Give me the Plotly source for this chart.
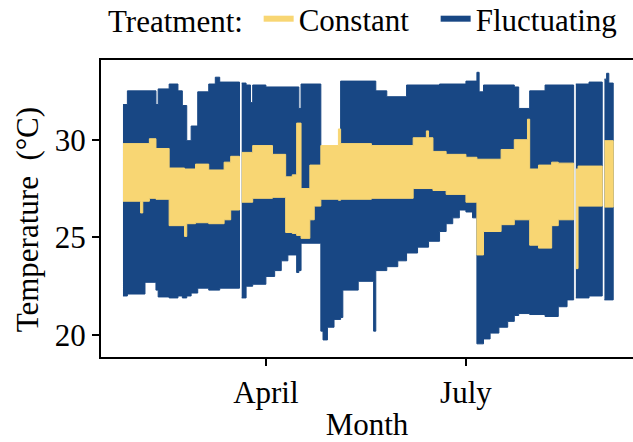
import plotly.graph_objects as go

# Logger readings summarised as step segments: each entry starts at the given
# date and lasts until the next one; None marks a gap in the record.
fluct_dates = ["2019-01-26", "2019-01-28", "2019-02-05", "2019-02-10", "2019-02-11",
               "2019-02-16", "2019-02-20", "2019-02-22", "2019-02-24", "2019-02-26",
               "2019-03-01", "2019-03-06", "2019-03-09", "2019-03-11", "2019-03-20",
               "2019-03-21", "2019-03-23", "2019-03-25", "2019-03-26", "2019-04-01",
               "2019-04-05", "2019-04-08", "2019-04-11", "2019-04-15", "2019-04-16",
               "2019-04-17", "2019-04-26", "2019-04-27", "2019-04-29", "2019-05-02",
               "2019-05-05", "2019-05-06", "2019-05-13", "2019-05-20", "2019-05-21",
               "2019-05-26", "2019-05-31", "2019-06-04", "2019-06-09", "2019-06-14",
               "2019-06-19", "2019-06-22", "2019-06-25", "2019-06-28", "2019-07-01",
               "2019-07-04", "2019-07-06", "2019-07-07", "2019-07-09", "2019-07-12",
               "2019-07-16", "2019-07-20", "2019-07-23", "2019-07-25", "2019-07-30",
               "2019-08-06", "2019-08-12", "2019-08-16", "2019-08-19", "2019-08-20",
               "2019-08-26", "2019-09-01", "2019-09-02", "2019-09-03", "2019-09-04",
               "2019-09-06"]
fluct_max = [31.8, 32.5, 32.5, 31.8, 32.6, 32.85, 32.5, 31.75, 29.95, 30.7,
             32.45, 32.85, 33.2, 32.95, None, 32.9, 32.8, 31.9, 32.8, 32.7,
             32.7, 32.7, 32.7, 32.7, 31.6, 32.85, 28.0, 28.0, 28.0, 28.0,
             33.0, 33.0, 33.0, 33.0, 32.5, 32.2, 32.2, 32.8, 32.8, 32.8,
             32.85, 32.85, 32.85, 32.85, 33.0, 33.0, 33.45, 32.45, 32.8, 32.8,
             32.8, 32.8, 32.7, 31.6, 32.5, 32.8, 32.8, 32.8, None, 32.85,
             32.95, None, 33.1, 33.4, 32.9]
fluct_min = [22.0, 22.1, 22.7, 22.3, 21.95, 21.9, 22.0, 21.9, 22.0, 22.15,
             22.4, 22.3, 22.3, 22.4, None, 21.9, 22.5, 22.5, 22.6, 23.0,
             23.3, 23.8, 24.1, 23.2, 23.3, 24.7, 20.2, 19.75, 20.4, 20.8,
             20.9, 22.3, 22.75, 20.2, 23.3, 23.5, 23.8, 24.2, 24.5, 24.8,
             25.3, 25.7, 26.0, 26.4, 26.3, 26.0, 19.55, 19.55, 19.8, 20.1,
             20.4, 20.7, 21.0, 21.1, 21.05, 20.95, 21.45, 21.8, None, 21.9,
             22.0, None, 21.8, 21.8, 21.8]

const_dates = ["2019-01-26", "2019-02-03", "2019-02-04", "2019-02-07", "2019-02-10",
               "2019-02-16", "2019-02-23", "2019-02-24", "2019-02-28", "2019-03-06",
               "2019-03-13", "2019-03-16", "2019-03-20", "2019-03-21", "2019-03-26",
               "2019-04-04", "2019-04-10", "2019-04-13", "2019-04-15", "2019-04-17",
               "2019-04-21", "2019-04-23", "2019-04-26", "2019-05-04", "2019-05-05",
               "2019-05-19", "2019-06-07", "2019-06-13", "2019-06-14", "2019-06-16",
               "2019-06-22", "2019-07-01", "2019-07-06", "2019-07-09", "2019-07-17",
               "2019-07-23", "2019-07-29", "2019-07-30", "2019-08-03", "2019-08-09",
               "2019-08-12", "2019-08-19", "2019-08-20", "2019-08-21", "2019-09-01",
               "2019-09-02", "2019-09-06"]
const_max = [29.8, 29.8, 29.8, 30.05, 29.55, 28.55, 28.5, 28.5, 28.75, 28.45,
             28.85, 29.15, None, 29.35, 29.7, 29.25, 28.1, 28.2, 30.85, 27.5,
             28.7, 28.7, 29.7, 30.55, 29.8, 29.7, 30.1, 30.45, 30.1, 29.4,
             29.25, 29.1, 29.0, 29.0, 29.5, 30.0, 31.05, 28.5, 28.7, 28.85,
             28.8, None, 28.5, 28.65, None, 29.95]
const_min = [26.85, 26.25, 26.85, 27.0, 26.95, 25.6, 25.05, 25.7, 25.75, 25.7,
             25.9, 26.4, None, 26.8, 27.0, 27.05, 25.25, 25.2, 25.1, 24.95,
             25.9, 26.6, 26.95, 26.9, 26.95, 27.0, 27.5, 27.5, 27.5, 27.4,
             27.2, 26.8, 24.1, 25.3, 25.65, 25.9, 25.9, 24.6, 24.45, 25.6,
             25.9, None, 23.4, 26.6, None, 26.55]

month_ticks = ["2019-04-01", "2019-07-01"]
month_labels = ["April", "July"]
temp_ticks = [20, 25, 30]

COL_CONST = "#F8D673"
COL_FLUCT = "#184784"
FONT = "Liberation Serif"
FS = 31


def band_outline(dates, upper, lower):
    """Closed outline of the stepped min/max band, one polygon per unbroken run."""
    assert len(dates) == len(upper) + 1 and len(upper) == len(lower)
    xs, ys = [], []
    run = []

    def flush():
        if not run:
            return
        for s, e, hi, lo in run:
            xs.extend([s, e])
            ys.extend([hi, hi])
        for s, e, hi, lo in reversed(run):
            xs.extend([e, s])
            ys.extend([lo, lo])
        xs.append(None)
        ys.append(None)
        run.clear()

    for i, (hi, lo) in enumerate(zip(upper, lower)):
        if hi is None:
            flush()
        else:
            run.append((dates[i], dates[i + 1], hi, lo))
    flush()
    return xs, ys


fig = go.Figure()

for name, dates, upper, lower, col in [
    ("Fluctuating", fluct_dates, fluct_max, fluct_min, COL_FLUCT),
    ("Constant", const_dates, const_max, const_min, COL_CONST),
]:
    bx, by = band_outline(dates, upper, lower)
    fig.add_trace(go.Scatter(
        x=bx, y=by, mode="lines", fill="toself", fillcolor=col,
        line=dict(color=col, width=1), hoverinfo="skip", showlegend=False,
        name=name,
    ))

# legend entries (the first one is widened to space the keys apart)
for name, col, lw in [("Constant", COL_CONST, 132), ("Fluctuating", COL_FLUCT, None)]:
    fig.add_trace(go.Scatter(
        x=[None], y=[None], mode="lines", name=name,
        line=dict(color=col, width=6), legendwidth=lw,
    ))

fig.update_layout(
    width=633, height=442,
    margin=dict(l=101, r=0, t=60, b=85, autoexpand=False),
    paper_bgcolor="white", plot_bgcolor="white",
    font=dict(family=FONT, size=FS, color="black"),
    showlegend=True,
    legend=dict(
        orientation="h", x=0.0094, xanchor="left", y=1.047, yanchor="bottom",
        title=dict(text="Treatment:\u00a0", side="left", font=dict(size=FS)),
        font=dict(size=FS), bgcolor="rgba(0,0,0,0)",
        itemwidth=30, tracegroupgap=0,
    ),
    xaxis=dict(
        type="date", range=["2019-01-16", "2019-09-15"],
        tickmode="array", tickvals=month_ticks, ticktext=month_labels,
        ticks="outside", ticklen=7, tickwidth=2, tickcolor="black",
        showline=True, linewidth=2, linecolor="black", mirror=True,
        showgrid=False, zeroline=False,
        tickfont=dict(size=FS),
        title=dict(text="Month", font=dict(size=FS), standoff=8),
    ),
    yaxis=dict(
        range=[18.876, 34.08],
        tickmode="array", tickvals=temp_ticks,
        ticks="outside", ticklen=7, tickwidth=2, tickcolor="black",
        showline=True, linewidth=2, linecolor="black",
        showgrid=False, zeroline=False,
        tickfont=dict(size=FS),
    ),
    annotations=[dict(
        text="Temperature\u00a0 (°C)", textangle=-90,
        xref="paper", yref="paper", x=-0.139, y=0.4605,
        xanchor="center", yanchor="middle", showarrow=False,
        font=dict(size=FS),
    )],
)

fig.write_html("out.html")
